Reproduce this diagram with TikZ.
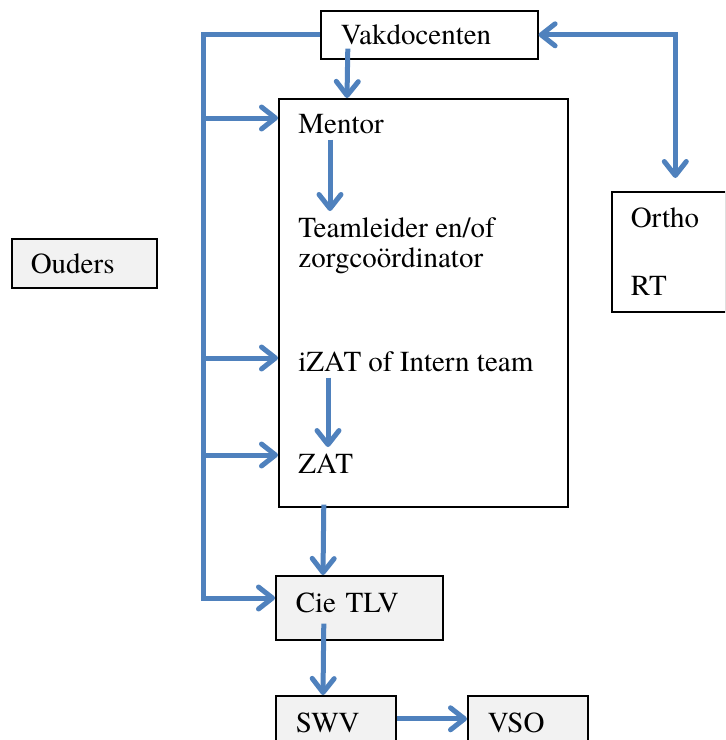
\documentclass[tikz,border=0pt]{standalone}
\usepackage{fontspec}
\setmainfont{TeX Gyre Termes}
\usetikzlibrary{arrows.meta,calc}
\definecolor{flowblue}{HTML}{4F81BD}
\definecolor{boxgrey}{HTML}{F2F2F2}

\begin{document}
\begin{tikzpicture}[x=0.5pt,y=-0.5pt,
    font=\fontsize{14.5pt}{15pt}\selectfont,
    >={Straight Barb[round,length=7pt,width=11pt]},
    box/.style={draw,line width=0.8pt,anchor=north west,inner ysep=0pt,align=left},
    greybox/.style={box,fill=boxgrey},
    item/.style={anchor=base west,inner sep=0pt,align=left},
    flow/.style={flowblue,line width=2.5pt,->}]
    \clip (0,0) rectangle (725,740);
    % big box round the school steps
    \node[draw,line width=0.8pt,anchor=north west,minimum width=144.5pt,minimum height=204pt,inner sep=0pt] (zorg) at (278,98) {};
    \node[item] (mentor) at (298,133) {Mentor};
    \node[item,anchor=north west] (team) at (298,217) {Teamleider en/of\\zorgcoördinator};
    \node[item] (izat) at (298,371) {iZAT of Intern team};
    \node[item] (zat) at (298,473) {ZAT};
    % boxes
    \node[box,text width=88.5pt,inner xsep=10pt,minimum height=24pt] (vak) at (320,10) {Vakdocenten};
    \node[box,text width=38pt,inner xsep=9.5pt,minimum height=60pt] (ortho) at (611,191) {Ortho\\[19pt]RT};
    \node[greybox,text width=53.5pt,inner xsep=9.5pt,minimum height=24.5pt] (ouders) at (11,238) {Ouders};
    \node[greybox,text width=63.5pt,inner xsep=10pt,minimum height=32pt,text depth=5pt] (cie) at (275,575) {Cie TLV};
    \node[greybox,text width=40pt,inner xsep=10pt,minimum height=32pt,text depth=5pt] (swv) at (275,695) {SWV};
    \node[greybox,text width=40pt,inner xsep=10pt,minimum height=32pt,text depth=5pt] (vso) at (467,695) {VSO};
    % trunk on the left
    \coordinate (j1) at (203,118);
    \coordinate (j2) at (203,358);
    \coordinate (j3) at (203,455);
    \coordinate (j4) at (203,598);
    \draw[flow] (vak.west) -| (j4) -- (j4 -| cie.west);
    \draw[flow] (j1) -- (j1 -| zorg.west);
    \draw[flow] (j2) -- (j2 -| zorg.west);
    \draw[flow] (j3) -- (j3 -| zorg.west);
    % arrows down
    \draw[flow] ($(vak.south)+(-81.5,-11)$) -- (zorg.north -| 347,0);
    \draw[flow,shorten <=3pt,shorten >=3pt] (mentor.south -| 330,0) -- (team.north -| 330,0);
    \draw[flow,shorten <=3pt,shorten >=3pt] (izat.south -| 328,0) -- (zat.north -| 328,0);
    \draw[flow] ($(zorg.south)+(-99.5,-3)$) -- (cie.north -| 323,0);
    \draw[flow] ($(cie.south)+(-35.5,-17)$) -- (swv.north -| 323,0);
    \draw[flow] ($(swv.east)+(0,-9)$) -- ($(vso.west)+(0,-9)$);
    % vakdocenten and ortho
    \draw[flow,<->] (vak.east) -| ($(ortho.north)+(6.5,-13)$);
\end{tikzpicture}
\end{document}
